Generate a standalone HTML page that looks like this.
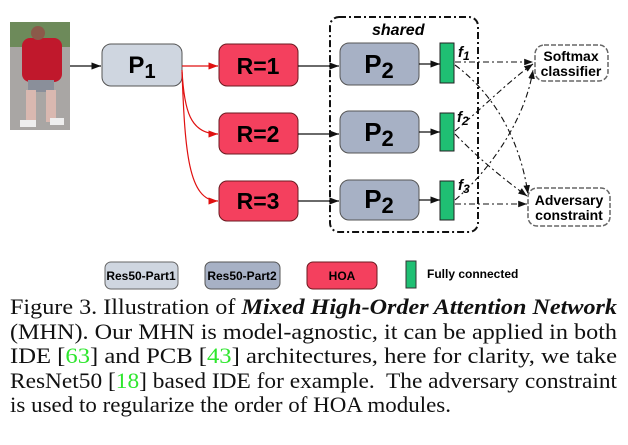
<!DOCTYPE html>
<html><head><meta charset="utf-8"><style>
body{margin:0;width:628px;height:445px;background:#fff;overflow:hidden;position:relative}
.cap{position:absolute;left:10px;top:295px;width:607px;font-family:"Liberation Serif",serif;font-size:22px;line-height:24.5px;color:#111}
.cap div{height:24.5px;white-space:nowrap}
.cap span.t{display:inline-block;transform-origin:0 0}
.g{color:#2ee62e}
</style></head><body>
<svg width="628" height="292" style="position:absolute;left:0;top:0" font-family="Liberation Sans, sans-serif">
<defs>
<marker id="a" markerWidth="8" markerHeight="6" refX="8" refY="3" orient="auto"><path d="M0,0 L8,3 L0,6 z" fill="#111"/></marker>
<marker id="r" markerWidth="8" markerHeight="6" refX="8" refY="3" orient="auto"><path d="M0,0 L8,3 L0,6 z" fill="#e01010"/></marker>
</defs>
<rect x="10" y="22" width="60" height="108" fill="#a9a6a4"/>
<rect x="10" y="22" width="60" height="25" fill="#6d8a5a"/>
<rect x="22" y="38" width="40" height="44" rx="8" fill="#c0182c"/>
<circle cx="38" cy="33" r="7" fill="#8b5a4a"/>
<rect x="28" y="80" width="26" height="12" fill="#8a8f9a"/>
<rect x="26" y="90" width="10" height="32" fill="#d9b8b0"/>
<rect x="46" y="90" width="10" height="32" fill="#d9b8b0"/>
<rect x="20" y="120" width="16" height="7" fill="#eee"/><rect x="50" y="118" width="14" height="7" fill="#eee"/>
<line x1="70" y1="66" x2="101" y2="66" stroke="#111" stroke-width="1.2" marker-end="url(#a)"/>
<rect x="102" y="44" width="80" height="42" rx="9" fill="#cfd6e0" stroke="#555" stroke-width="1"/>
<text x="142" y="73" font-size="24" font-weight="bold" text-anchor="middle">P<tspan font-size="20" dy="5">1</tspan></text>
<path d="M182,66 L218,66" stroke="#e01010" stroke-width="1.2" fill="none" marker-end="url(#r)"/>
<path d="M182,70 C184,110 190,134 218,134" stroke="#e01010" stroke-width="1.2" fill="none" marker-end="url(#r)"/>
<path d="M182,72 C185,150 188,201 218,201" stroke="#e01010" stroke-width="1.2" fill="none" marker-end="url(#r)"/>
<g fill="#f4405e" stroke="#6a1a20" stroke-width="1">
<rect x="219" y="44" width="79" height="42" rx="8"/>
<rect x="219" y="113" width="79" height="41" rx="8"/>
<rect x="219" y="181" width="79" height="40" rx="8"/>
</g>
<g font-size="23" font-weight="bold" text-anchor="middle">
<text x="258" y="74">R=1</text><text x="258" y="142">R=2</text><text x="258" y="209">R=3</text>
</g>
<g stroke="#111" stroke-width="1.2">
<line x1="298" y1="66" x2="339" y2="66" marker-end="url(#a)"/>
<line x1="298" y1="134" x2="339" y2="134" marker-end="url(#a)"/>
<line x1="298" y1="201" x2="339" y2="201" marker-end="url(#a)"/>
</g>
<rect x="330" y="17" width="148" height="215" rx="9" fill="none" stroke="#111" stroke-width="2" stroke-dasharray="7,3,2,3"/>
<text x="372" y="35" font-size="16" font-weight="bold" font-style="italic">shared</text>
<g fill="#a7b1c5" stroke="#555" stroke-width="1">
<rect x="340" y="43" width="79" height="42" rx="9"/>
<rect x="340" y="111" width="79" height="42" rx="9"/>
<rect x="340" y="180" width="79" height="40" rx="9"/>
</g>
<g font-size="26" font-weight="bold" text-anchor="middle">
<text x="379" y="73">P<tspan font-size="22" dy="5">2</tspan></text>
<text x="379" y="141">P<tspan font-size="22" dy="5">2</tspan></text>
<text x="379" y="208">P<tspan font-size="22" dy="5">2</tspan></text>
</g>
<g stroke="#111" stroke-width="1.2">
<line x1="419" y1="64" x2="440" y2="64" marker-end="url(#a)"/>
<line x1="419" y1="132" x2="440" y2="132" marker-end="url(#a)"/>
<line x1="419" y1="200" x2="440" y2="200" marker-end="url(#a)"/>
</g>
<g fill="#1fbf73" stroke="#222" stroke-width="1">
<rect x="440" y="43" width="14" height="40"/>
<rect x="440" y="113" width="14" height="38"/>
<rect x="440" y="181" width="14" height="39"/>
</g>
<g font-size="15" font-weight="bold" font-style="italic">
<text x="458" y="57">f<tspan font-size="12" dy="3">1</tspan></text>
<text x="457" y="122">f<tspan font-size="12" dy="3">2</tspan></text>
<text x="458" y="190">f<tspan font-size="12" dy="3">3</tspan></text>
</g>
<g stroke="#111" stroke-width="1.1" fill="none" stroke-dasharray="6,3,2,3">
<line x1="455" y1="62" x2="533" y2="62" marker-end="url(#a)"/>
<path d="M455,65 C495,95 520,140 528,194" marker-end="url(#a)"/>
<path d="M455,131 C480,110 510,80 533,64" marker-end="url(#a)"/>
<path d="M455,134 C480,160 505,180 527,196" marker-end="url(#a)"/>
<path d="M455,200 C490,170 525,120 533,70" marker-end="url(#a)"/>
<line x1="455" y1="204" x2="527" y2="204" marker-end="url(#a)"/>
</g>
<rect x="535" y="45" width="73" height="36" rx="9" fill="#fff" stroke="#666" stroke-width="1.5" stroke-dasharray="5,2"/>
<text x="571" y="61" font-size="14" font-weight="bold" text-anchor="middle">Softmax</text>
<text x="571" y="76" font-size="14" font-weight="bold" text-anchor="middle">classifier</text>
<rect x="528" y="188" width="82" height="38" rx="9" fill="#fff" stroke="#666" stroke-width="1.5" stroke-dasharray="5,2"/>
<text x="569" y="205" font-size="14" font-weight="bold" text-anchor="middle">Adversary</text>
<text x="569" y="220" font-size="14" font-weight="bold" text-anchor="middle">constraint</text>
<rect x="105" y="262" width="73" height="27" rx="6" fill="#cfd6e0" stroke="#666"/>
<text x="141" y="280" font-size="12" font-weight="bold" text-anchor="middle">Res50-Part1</text>
<rect x="205" y="262" width="75" height="27" rx="6" fill="#a7b1c5" stroke="#555"/>
<text x="242" y="280" font-size="12" font-weight="bold" text-anchor="middle">Res50-Part2</text>
<rect x="307" y="262" width="70" height="27" rx="6" fill="#f4405e" stroke="#6a1a20"/>
<text x="342" y="280" font-size="12" font-weight="bold" text-anchor="middle">HOA</text>
<rect x="406" y="261" width="10" height="27" fill="#1fbf73" stroke="#333"/>
<text x="427" y="278" font-size="12" font-weight="bold">Fully connected</text>
</svg>
<div class="cap">
<div><span class="t" data-w="607">Figure 3. Illustration of <b><i>Mixed High-Order Attention Network</i></b></span></div>
<div><span class="t" data-w="607">(MHN). Our MHN is model-agnostic, it can be applied in both</span></div>
<div><span class="t" data-w="607">IDE [<span class="g">63</span>] and PCB [<span class="g">43</span>] architectures, here for clarity, we take</span></div>
<div><span class="t" data-w="607">ResNet50 [<span class="g">18</span>] based IDE for example.&nbsp; The adversary constraint</span></div>
<div><span class="t" data-w="441">is used to regularize the order of HOA modules.</span></div>
</div>
<script>
document.querySelectorAll('.cap span.t').forEach(function(s){
  var w=s.getBoundingClientRect().width, t=+s.getAttribute('data-w');
  if(w>0) s.style.transform='scaleX('+(t/w)+')';
});
</script>
</body></html>
